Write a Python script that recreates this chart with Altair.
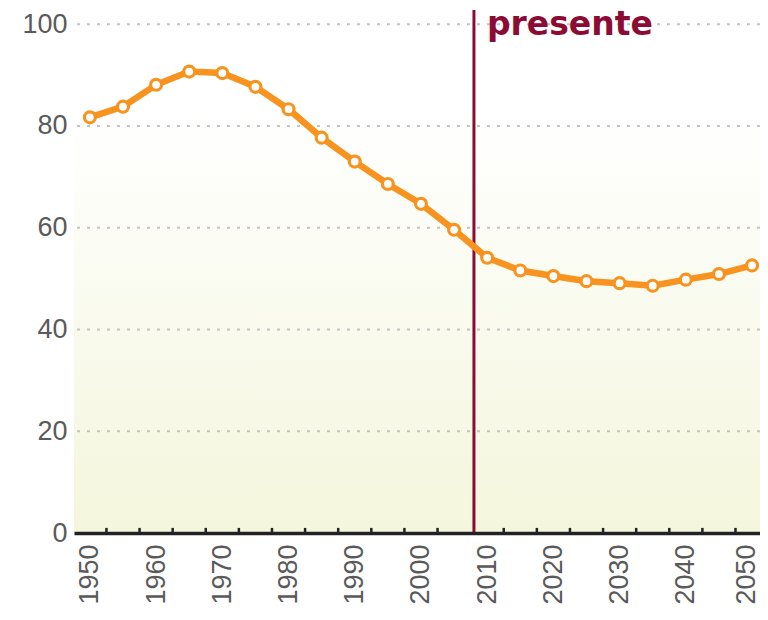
import altair as alt
import pandas as pd

years = [1950, 1955, 1960, 1965, 1970, 1975, 1980, 1985, 1990, 1995, 2000,
         2005, 2010, 2015, 2020, 2025, 2030, 2035, 2040, 2045, 2050]
values = [81.7, 83.8, 88.1, 90.7, 90.4, 87.7, 83.3, 77.7, 73.0, 68.6, 64.7,
          59.6, 54.1, 51.6, 50.5, 49.5, 49.1, 48.6, 49.8, 50.9, 52.6]
label_years = [1950, 1960, 1970, 1980, 1990, 2000, 2010, 2020, 2030, 2040, 2050]
tick_years = [1952.5, 1957.5, 1962.5, 1967.5, 1972.5, 1977.5, 1982.5, 1987.5,
              1992.5, 1997.5, 2002.5, 2012.5, 2017.5, 2022.5, 2027.5,
              2032.5, 2037.5, 2042.5, 2047.5]
y_ticks = [0, 20, 40, 60, 80, 100]
grid_vals = [20, 40, 60, 80, 100]
present_year = 2008
present_label = "presente"

X_DOMAIN = [1947.6, 2051.2]
Y_DOMAIN = [0, 102.8]
ORANGE = "#f7931e"
CRIMSON = "#8c0b35"
FONT = "Liberation Sans"

df = pd.DataFrame({"year": years, "value": values})
ticks_df = pd.DataFrame({"year": tick_years})
grid_df = pd.DataFrame({"v": grid_vals})
one = pd.DataFrame({"a": [0]})

xscale = alt.Scale(domain=X_DOMAIN, nice=False, zero=False)
yscale = alt.Scale(domain=Y_DOMAIN, nice=False, zero=True)

x_axis = alt.Axis(values=label_years, labelAngle=270, ticks=False, grid=False,
                  labelPadding=11, labelFontSize=27, labelFont=FONT,
                  labelColor="#5a5a5a", domainColor="#222222", domainWidth=3.5,
                  title=None, format="d", zindex=1, labelFlush=False,
                  labelOffset={"condition": {"test": "datum.value == 2050", "value": -6},
                               "value": 0})
y_axis = alt.Axis(values=y_ticks, ticks=False, grid=False, domain=False,
                  labelPadding=7, labelFontSize=27, labelFont=FONT,
                  labelColor="#5a5a5a", title=None, zindex=1)

bg = alt.Chart(one).mark_rect(
    fill=alt.Gradient(
        gradient="linear",
        stops=[alt.GradientStop(color="#ffffff", offset=0),
               alt.GradientStop(color="#ffffff", offset=0.2),
               alt.GradientStop(color="#f4f6dc", offset=1)],
        x1=0, x2=0, y1=0, y2=1),
    stroke=None
).encode(x=alt.value(0), x2=alt.value("width"),
         y=alt.value(0), y2=alt.value("height"))

grid = alt.Chart(grid_df).mark_rule(
    color="#c4c4c4", strokeWidth=2, strokeDash=[3, 7]
).encode(y=alt.Y("v:Q", scale=yscale, axis=y_axis))

ticks = alt.Chart(ticks_df).mark_rule(color="#222222", strokeWidth=2.5).encode(
    x=alt.X("year:Q", scale=xscale, axis=x_axis),
    y=alt.Y(datum=0, scale=yscale, axis=y_axis), y2=alt.datum(1.0))

present = alt.Chart(one).mark_rule(color=CRIMSON, strokeWidth=3).encode(
    x=alt.X(datum=present_year, scale=xscale, axis=x_axis))

line = alt.Chart(df).mark_line(color=ORANGE, strokeWidth=6.5).encode(
    x=alt.X("year:Q", scale=xscale, axis=x_axis),
    y=alt.Y("value:Q", scale=yscale, axis=y_axis))

pts = alt.Chart(df).mark_point(
    filled=True, fill="white", stroke=ORANGE, strokeWidth=3.2, size=120,
    opacity=1, shape="circle"
).encode(x=alt.X("year:Q", scale=xscale, axis=x_axis),
         y=alt.Y("value:Q", scale=yscale, axis=y_axis))

txt = alt.Chart(one).mark_text(
    text=present_label, font="DejaVu Sans", fontWeight="bold", fontSize=33,
    color=CRIMSON, align="left", baseline="alphabetic", dx=13
).encode(x=alt.X(datum=present_year, scale=xscale, axis=x_axis),
         y=alt.Y(datum=97.9, scale=yscale, axis=y_axis))

chart = alt.layer(bg, grid, ticks, present, line, pts, txt).properties(
    width=686, height=523,
    autosize=alt.AutoSizeParams(type="none"),
    padding={"left": 66, "top": 2, "right": 0, "bottom": 79},
    background="white"
).configure_view(stroke=None)

chart.save("out.html", embed_options={"renderer": "svg", "actions": False})
